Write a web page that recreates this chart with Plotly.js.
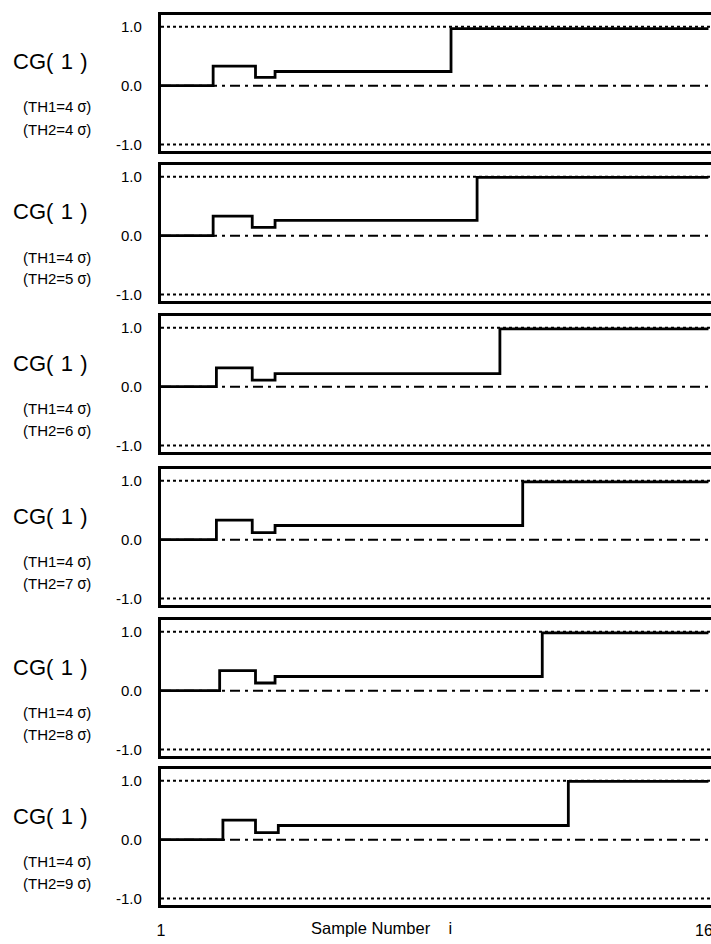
<!DOCTYPE html>
<html>
<head>
<meta charset="utf-8">
<script src="https://cdn.plot.ly/plotly-3.0.1.min.js"></script>
<style>
html,body{margin:0;padding:0;overflow:hidden;background:#fff;width:711px;height:944px;}
#chart{width:740px;height:944px;}
</style>
</head>
<body>
<div id="chart"></div>
<script>
// ---- data ----
const th1 = '4';
const th2 = ['4', '5', '6', '7', '8', '9'];
const sampleFirst = 1;
const sampleLast = 169;
const upAt      = [17, 17, 18, 18, 19, 20];
const dipAt     = [30, 29, 29, 29, 30, 30];
const dipEndAt  = [36, 36, 36, 36, 36, 37];
const jumpAt    = [90, 98, 105, 112, 118, 126];
const firstLevel = [0.33, 0.33, 0.32, 0.33, 0.34, 0.33];
const dipLevel   = [0.14, 0.14, 0.11, 0.12, 0.13, 0.12];
const midLevel   = [0.24, 0.26, 0.22, 0.24, 0.24, 0.24];
const finalLevel = [0.97, 0.99, 0.98, 0.98, 0.98, 0.99];
const thresholds = [1.0, -1.0];
const reference = 0.0;
const yTickVals = [1, 0, -1];
const yTickText = ['1.0', '0.0', '-1.0'];
const xTickVals = [1, 169];
const xTickText = ['1', '169'];
const xTitle = 'Sample Number\u00a0\u00a0\u00a0\u00a0i';

// ---- layout constants ----
const W = 740, H = 944;
const ML = 161, MR = 12, MT = 15, MB = 39;
const plotW = W - ML - MR, plotH = H - MT - MB;
const panelTops = [15, 165, 316, 469, 620, 769];
const panelH = 136;
const xRange = [1, 175];
const yRange = [-1.11, 1.20];
const font = 'Liberation Sans, Arial, Helvetica, sans-serif';
const cjk = "Noto Sans CJK JP";

const px2py = p => (H - MB - p) / plotH;
const px2px = p => (p - ML) / plotW;

const data = [];
const shapes = [];
const annotations = [];
const layout = {
  width: W, height: H,
  margin: {l: ML, r: MR, t: MT, b: MB},
  paper_bgcolor: '#fff', plot_bgcolor: '#fff',
  showlegend: false,
  font: {family: font, color: '#000', size: 14}
};

for (let i = 0; i < th2.length; i++) {
  const n = i + 1;
  const xa = 'x' + (n === 1 ? '' : n), ya = 'y' + (n === 1 ? '' : n);
  const T = panelTops[i];
  layout['xaxis' + (n === 1 ? '' : n)] = {
    anchor: ya, range: xRange, domain: [0, 1],
    showline: true, mirror: true, linewidth: 3.2, linecolor: '#000',
    showgrid: false, zeroline: false, ticks: '',
    tickvals: xTickVals, ticktext: xTickText,
    showticklabels: n === th2.length,
    ticklabelstandoff: 9,
    tickfont: {size: 16, family: font, color: '#000'}
  };
  layout['yaxis' + (n === 1 ? '' : n)] = {
    anchor: xa, range: yRange,
    domain: [px2py(T + panelH), px2py(T)],
    showline: true, mirror: true, linewidth: 3.2, linecolor: '#000',
    showgrid: false, zeroline: false, ticks: '',
    tickvals: yTickVals, ticktext: yTickText,
    ticklabelstandoff: 13,
    tickfont: {size: 15, family: font, color: '#000'}
  };
  thresholds.forEach(t => shapes.push({
    type: 'line', xref: xa + ' domain', yref: ya, x0: 0, x1: 1, y0: t, y1: t,
    line: {color: '#000', width: 2, dash: '3px,3px'}
  }));
  shapes.push({
    type: 'line', xref: xa + ' domain', yref: ya, x0: 0, x1: 1, y0: reference, y1: reference,
    line: {color: '#000', width: 2, dash: '10px,5px,3px,5px'}
  });
  data.push({
    type: 'scatter', mode: 'lines', xaxis: xa, yaxis: ya,
    x: [sampleFirst, upAt[i], dipAt[i], dipEndAt[i], jumpAt[i], sampleLast],
    y: [reference, firstLevel[i], dipLevel[i], midLevel[i], finalLevel[i], finalLevel[i]],
    line: {shape: 'hv', color: '#000', width: 2.8},
    hoverinfo: 'skip'
  });
  annotations.push({
    xref: 'paper', yref: 'paper', x: px2px(11), y: px2py(T + 47),
    xanchor: 'left', yanchor: 'middle', showarrow: false,
    text: 'CG(\u20041\u2004)',
    font: {size: 22, family: font, color: '#000'}
  });
  annotations.push({
    xref: 'paper', yref: 'paper', x: px2px(22), y: px2py(T + 91),
    xanchor: 'left', yanchor: 'middle', showarrow: false, borderpad: 0,
    text: '(TH1=' + th1 + '\u2005<span style="font-family:' + cjk + '">σ</span>)',
    font: {size: 15, family: font, color: '#000'}
  });
  annotations.push({
    xref: 'paper', yref: 'paper', x: px2px(22), y: px2py(T + 113),
    xanchor: 'left', yanchor: 'middle', showarrow: false, borderpad: 0,
    text: '(TH2=' + th2[i] + '\u2005<span style="font-family:' + cjk + '">σ</span>)',
    font: {size: 15, family: font, color: '#000'}
  });
}
annotations.push({
  xref: 'paper', yref: 'paper', x: px2px(309), y: px2py(928),
  xanchor: 'left', yanchor: 'middle', showarrow: false,
  text: xTitle, font: {size: 16.5, family: font, color: '#000'}
});
layout.shapes = shapes;
layout.annotations = annotations;

Plotly.newPlot('chart', data, layout, {staticPlot: true, displayModeBar: false, responsive: false});
</script>
</body>
</html>
